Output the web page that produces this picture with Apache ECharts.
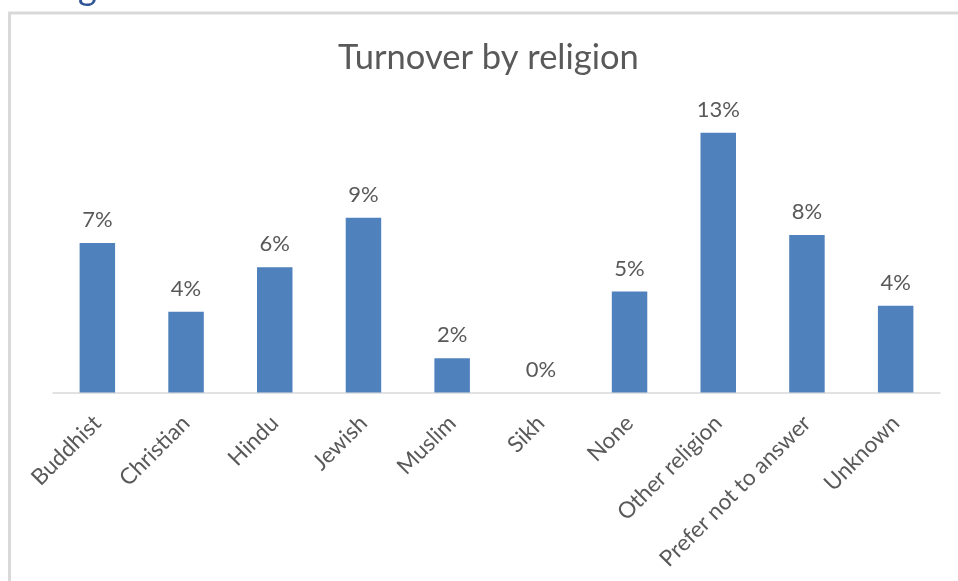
<!DOCTYPE html>
<html>
<head>
<meta charset="utf-8">
<script src="https://cdn.jsdelivr.net/npm/echarts@6/dist/echarts.min.js"></script>
<style>
  html, body { margin: 0; padding: 0; background: #fff; }
  #chart { width: 958px; height: 581px; }
</style>
</head>
<body>
<div id="chart"></div>
<script>
  // turnover rate per religion (fractions)
  var religions = ['Buddhist', 'Christian', 'Hindu', 'Jewish', 'Muslim', 'Sikh', 'None', 'Other religion', 'Prefer not to answer', 'Unknown']
  var turnover = [0.074, 0.040, 0.062, 0.0865, 0.017, 0, 0.050, 0.1286, 0.078, 0.043]

  var myChart = echarts.init(document.getElementById('chart'))
  var font = 'Lato, "Open Sans", sans-serif'
  var option = {
    backgroundColor: '#fff',
    animation: false,
    title: {
      text: 'Turnover by religion',
      left: 333,
      top: 35,
      textStyle: {
        fontFamily: font,
        fontSize: 34.5,
        fontWeight: 'normal',
        color: '#595959'
      }
    },
    graphic: [
      // frame of the pasted chart
      { type: 'line', shape: { x1: 8, y1: 13, x2: 958, y2: 13 }, style: { stroke: '#d9d9d9', lineWidth: 3 } },
      { type: 'line', shape: { x1: 9.5, y1: 12, x2: 9.5, y2: 581 }, style: { stroke: '#d9d9d9', lineWidth: 3 } },
      // bit of the heading cut off above
      { type: 'text', left: 78, top: -30, style: { text: 'g', fontFamily: font, fontSize: 36, fill: '#2f5597' } }
    ],
    grid: {
      left: 53,
      right: 18,
      top: 89.5,
      bottom: 188.5
    },
    xAxis: {
      type: 'category',
      data: religions,
      axisLine: { lineStyle: { color: '#d9d9d9', width: 1.5 } },
      axisTick: { show: false },
      axisLabel: {
        interval: 0,
        rotate: 45,
        margin: 27,
        fontFamily: font,
        fontSize: 22.5,
        color: '#595959'
      }
    },
    yAxis: {
      type: 'value',
      min: 0,
      max: 0.15,
      show: false,
      splitLine: { show: false }
    },
    series: [
      {
        name: 'Turnover',
        type: 'bar',
        data: turnover,
        barCategoryGap: '60%',
        itemStyle: {
          color: '#4f81bd'
        },
        label: {
          show: true,
          position: 'top',
          distance: 12,
          fontFamily: font,
          fontSize: 22,
          color: '#595959',
          formatter: function (p) {
            return Math.round(p.value * 100) + '%'
          }
        }
      }
    ]
  }
  myChart.setOption(option)
</script>
</body>
</html>
